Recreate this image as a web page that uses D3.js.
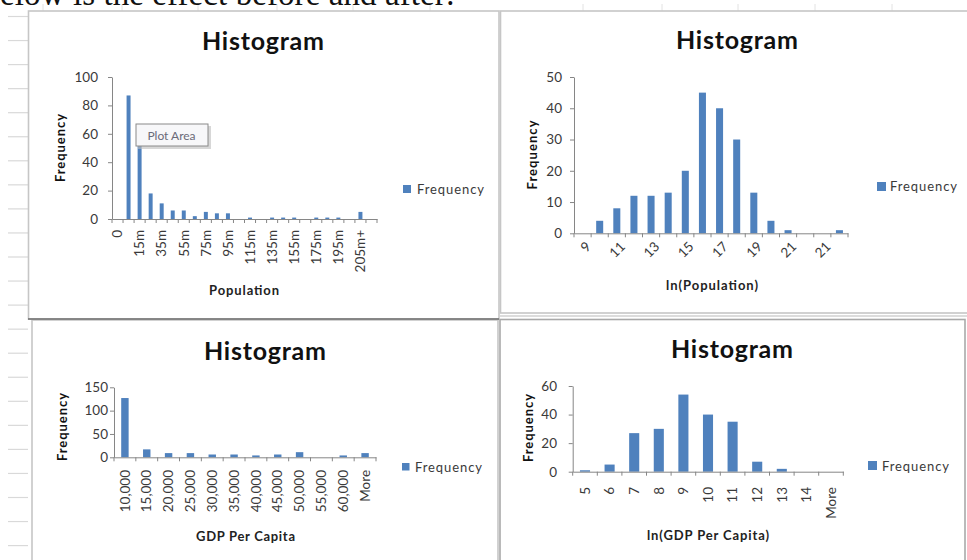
<!DOCTYPE html>
<html><head><meta charset="utf-8">
<script src="https://cdn.jsdelivr.net/npm/d3@7"></script>
<style>
html,body{margin:0;padding:0;background:#fff;overflow:hidden}
svg{display:block}
text{font-family:Lato,"Open Sans",sans-serif}
text.serif{font-family:"Liberation Serif","DejaVu Serif",serif}
</style></head><body>
<svg id="c" width="967" height="560"></svg>
<script>
// ---------------- data ----------------
const popLabels = ["0","","15m","","35m","","55m","","75m","","95m","","115m","","135m","","155m","","175m","","195m","","205m+",""];
const popFreq   = [0,87,55,18,11,6,6,2,5,4,4,0,1,0,1,1,1,0,1,1,1,0,5,0];

const lnPopLabels = ["9","","11","","13","","15","","17","","19","","21","","21",""];
const lnPopFreq   = [0,4,8,12,12,13,20,45,40,30,13,4,1,0,0,1];

const gdpLabels = ["10,000","15,000","20,000","25,000","30,000","35,000","40,000","45,000","50,000","55,000","60,000","More"];
const gdpFreq   = [127,17,9,9,6,6,4,6,11,0,4,9];

const lnGdpLabels = ["5","6","7","8","9","10","11","12","13","14","More"];
const lnGdpFreq   = [1,5,27,30,54,40,35,7,2,0,0];

const chartTitle = "Histogram";
const yTitle = "Frequency";
const legendName = "Frequency";
const introText = "below is the effect before and after:";

// ---------------- styles ----------------
const BAR = "#4F81BD", AXIS = "#868686", TXT = "#3a3a3a";
const svg = d3.select("#c");

// spreadsheet background
const bg = svg.append("g");
for (let k = 0; k < 23; k++) {
  const yy = 16.5 + k * 24.05;
  bg.append("line").attr("x1", 8).attr("x2", 28).attr("y1", yy).attr("y2", yy)
    .attr("stroke", "#d9d9d9").attr("stroke-width", 1.2);
}
[43,122,198,277,353,430,583,662,738,815,892].forEach(xx => {
  bg.append("line").attr("x1", xx).attr("x2", xx).attr("y1", 4).attr("y2", 11)
    .attr("stroke", "#e2e2e2").attr("stroke-width", 1);
});

// intro text (cut by the top edge, as in the reference)
(function(){
  const t = svg.append("text").attr("class", "serif").attr("font-size", 33).text("b");
  const bw = t.node().getComputedTextLength();
  t.remove();
  svg.append("text").attr("class", "serif").attr("x", -bw).attr("y", 4.5)
    .attr("font-size", 33).attr("fill", "#111")
    .attr("textLength", 455 + bw).attr("lengthAdjust", "spacing")
    .text(introText);
})();

// frames
function frame(x, y, w, h, col) {
  svg.append("rect").attr("x", x).attr("y", y).attr("width", w).attr("height", h)
    .attr("fill", "#fff").attr("stroke", col).attr("stroke-width", 1.6);
}
frame(28.5, 11, 470.5, 308, "#c6c6c6");
frame(500.5, 11, 480, 302, "#c6c6c6");
svg.append("line").attr("x1", 500).attr("x2", 967).attr("y1", 316).attr("y2", 316).attr("stroke", "#d0d0d0").attr("stroke-width", 1.4);
frame(32, 320, 466, 260, "#c6c6c6");
frame(500, 319.5, 465, 260, "#a9a9a9");
svg.append("line").attr("x1", 28).attr("x2", 499).attr("y1", 319).attr("y2", 319).attr("stroke", "#6e6e6e").attr("stroke-width", 1.6);

// ---------------- chart drawer ----------------
function drawChart(c) {
  const g = svg.append("g");
  const n = c.values.length;
  const pad = 1 - c.barFrac;
  const x = d3.scaleBand().domain(d3.range(n)).range([c.x0, c.x1])
    .paddingInner(pad).paddingOuter(pad / 2);
  const y = d3.scaleLinear().domain([0, c.yMax]).range([c.yZero, c.yTop]);

  // bars
  g.append("g").selectAll("rect").data(c.values).join("rect")
    .attr("x", (d, i) => x(i)).attr("width", x.bandwidth())
    .attr("y", d => y(d)).attr("height", d => y(0) - y(d))
    .attr("fill", BAR);

  // y axis
  const ya = g.append("g").attr("transform", `translate(${c.x0},0)`)
    .call(d3.axisLeft(y).tickValues(d3.range(0, c.yMax + 1, c.yStep))
      .tickSize(4).tickSizeOuter(0).tickPadding(c.x0 - 4 - c.yLabRight));
  ya.select(".domain").attr("stroke", AXIS);
  ya.selectAll(".tick line").attr("stroke", AXIS);
  ya.selectAll("text").attr("fill", TXT).attr("font-size", c.tickFont);

  // x axis
  const xa = g.append("g").attr("transform", `translate(0,${c.yZero})`)
    .call(d3.axisBottom(x).tickSize(0).tickSizeOuter(0).tickFormat(i => c.labels[i]));
  xa.select(".domain").attr("stroke", AXIS);
  const step = x.step();
  for (let i = 0; i <= n; i++) {
    const xx = c.x0 + i * step;
    xa.append("line").attr("x1", xx).attr("x2", xx).attr("y1", 0).attr("y2", 4).attr("stroke", AXIS);
  }
  const xt = xa.selectAll(".tick text").attr("fill", TXT).attr("font-size", c.tickFont);
  if (c.rot === -90) {
    xt.attr("text-anchor", "end").attr("y", 0).attr("x", -(c.xLabTop - c.yZero))
      .attr("dy", "0.35em").attr("transform", "rotate(-90)");
  } else {
    xt.attr("text-anchor", "end").attr("y", 0).attr("x", 0).attr("dy", "0.35em")
      .attr("transform", `translate(${c.rotDx},${c.xLabTop - c.yZero}) rotate(-45)`);
  }

  // titles
  g.append("text").attr("x", c.title[0]).attr("y", c.title[1]).attr("text-anchor", "middle")
    .attr("font-size", 25).attr("font-weight", 700).attr("fill", "#111")
    .attr("textLength", 122).attr("lengthAdjust", "spacing").text(chartTitle);
  g.append("text").attr("transform", `translate(${c.yTitle[0]},${c.yTitle[1]}) rotate(-90)`)
    .attr("text-anchor", "middle").attr("dominant-baseline", "central")
    .attr("font-size", 13).attr("font-weight", 700).attr("fill", "#111")
    .attr("textLength", c.yTitle[2]).attr("lengthAdjust", "spacing").text(yTitle);
  g.append("text").attr("x", c.xTitle[1]).attr("y", c.xTitle[2]).attr("text-anchor", "middle")
    .attr("dominant-baseline", "central")
    .attr("font-size", 13).attr("font-weight", 700).attr("fill", "#222")
    .attr("textLength", c.xTitle[3]).attr("lengthAdjust", "spacing").text(c.xTitle[0]);

  // legend
  g.append("rect").attr("x", c.legend[0]).attr("y", c.legend[1])
    .attr("width", c.legend[2]).attr("height", c.legend[2]).attr("fill", BAR);
  g.append("text").attr("x", c.legend[3]).attr("y", c.legend[4])
    .attr("dominant-baseline", "central").attr("font-size", 13).attr("fill", TXT)
    .attr("textLength", 67).attr("lengthAdjust", "spacing").text(legendName);
  return g;
}

drawChart({
  values: popFreq, labels: popLabels, barFrac: 0.36,
  x0: 112, x1: 377, yZero: 219, yTop: 77, yMax: 100, yStep: 20, yLabRight: 98,
  tickFont: 13.5, rot: -90, xLabTop: 230,
  title: [263, 50], yTitle: [60, 148, 68], xTitle: ["Population", 244, 290, 70],
  legend: [403, 185, 8, 417, 189]
});

// "Plot Area" tooltip
(function(){
  const tg = svg.append("g");
  tg.append("rect").attr("x", 138).attr("y", 126).attr("width", 73).attr("height", 23)
    .attr("fill", "#bdbdbd").attr("opacity", 0.6);
  tg.append("rect").attr("x", 136).attr("y", 124).attr("width", 72).attr("height", 22)
    .attr("fill", "#f7f7f9").attr("stroke", "#8a8a8a").attr("stroke-width", 1);
  tg.append("text").attr("x", 171.5).attr("y", 135.5).attr("text-anchor", "middle")
    .attr("dominant-baseline", "central").attr("font-size", 12).attr("fill", "#6a6a78")
    .text("Plot Area");
})();

drawChart({
  values: lnPopFreq, labels: lnPopLabels, barFrac: 0.41,
  x0: 574, x1: 848, yZero: 233.3, yTop: 77, yMax: 50, yStep: 10, yLabRight: 562,
  tickFont: 13.5, rot: -45, rotDx: 6, xLabTop: 244,
  title: [737, 49], yTitle: [532, 155, 69], xTitle: ["ln(Population)", 712, 285, 92],
  legend: [877, 182, 9, 890, 186]
});

drawChart({
  values: gdpFreq, labels: gdpLabels, barFrac: 0.34,
  x0: 114, x1: 376, yZero: 457.3, yTop: 387.3, yMax: 150, yStep: 50, yLabRight: 108,
  tickFont: 13.5, rot: -90, xLabTop: 470,
  title: [265, 360], yTitle: [62, 427, 68], xTitle: ["GDP Per Capita", 245.5, 536, 99],
  legend: [402, 463, 7.5, 415, 467]
});

drawChart({
  values: lnGdpFreq, labels: lnGdpLabels, barFrac: 0.41,
  x0: 572.7, x1: 843.3, yZero: 471.7, yTop: 386, yMax: 60, yStep: 20, yLabRight: 557,
  tickFont: 13.5, rot: -90, xLabTop: 487,
  title: [732, 358], yTitle: [528, 428, 68], xTitle: ["ln(GDP  Per Capita)", 708, 535, 122],
  legend: [868, 461, 9, 882, 466]
});
</script>
</body></html>
